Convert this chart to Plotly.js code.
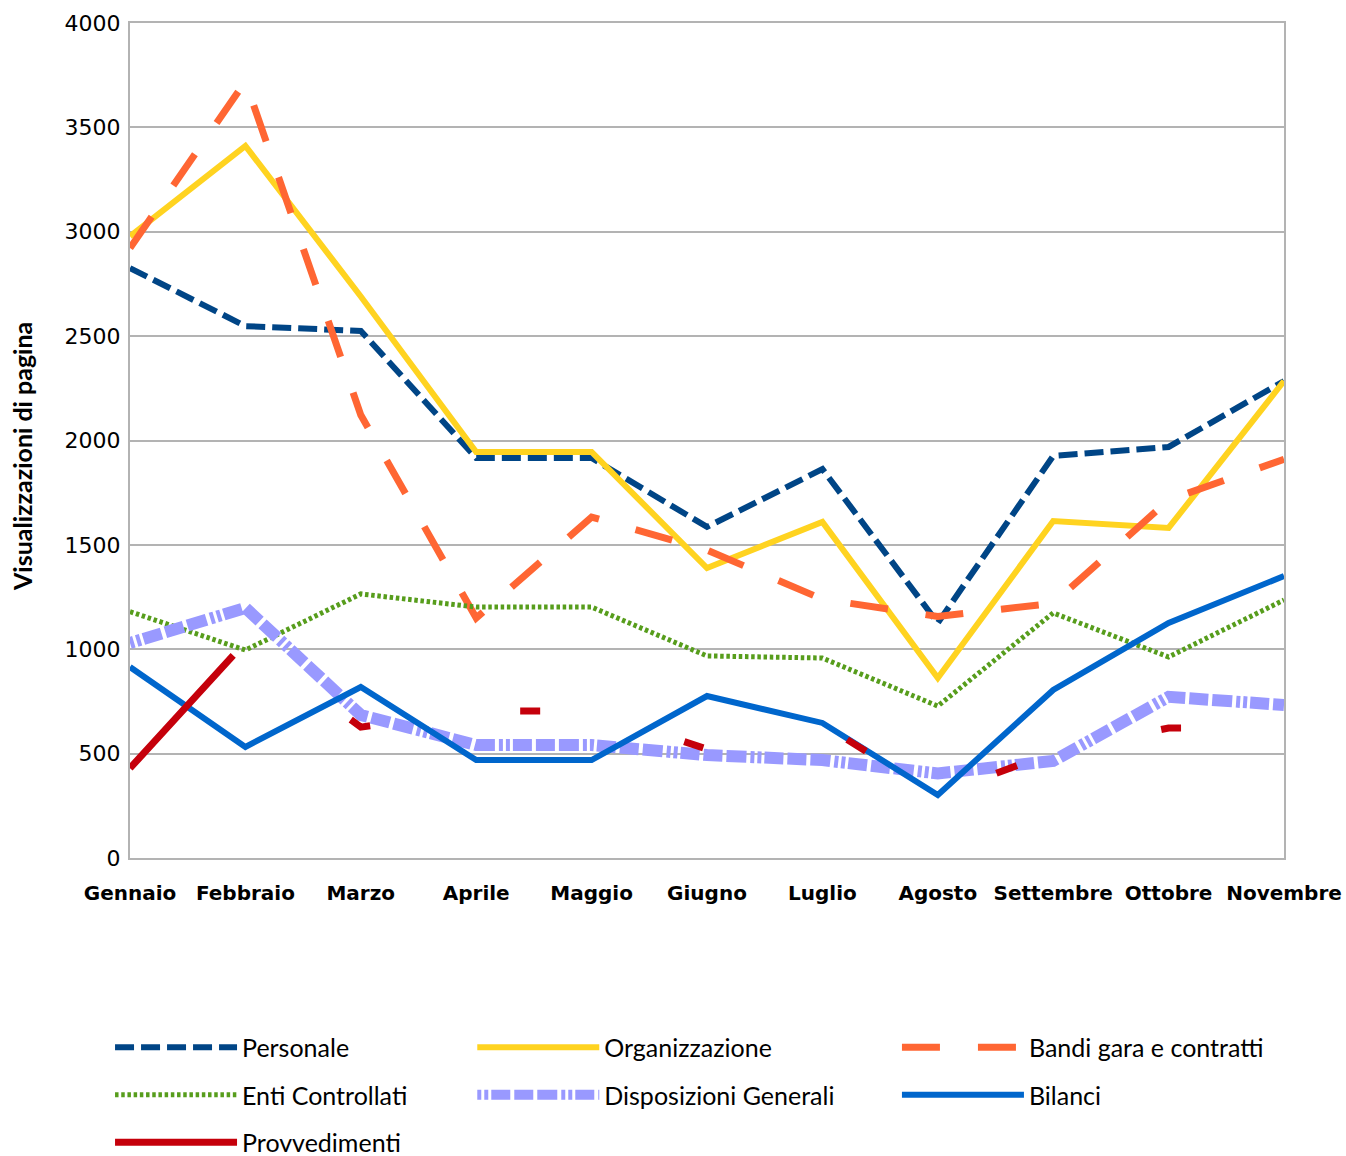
<!DOCTYPE html>
<html><head><meta charset="utf-8">
<script src="https://cdn.plot.ly/plotly-3.0.1.min.js"></script>
<style>body{margin:0;background:#fff}</style>
</head><body>
<div id="chart" style="width:1346px;height:1156px"></div>
<script>
const months = ["Gennaio","Febbraio","Marzo","Aprile","Maggio","Giugno","Luglio","Agosto","Settembre","Ottobre","Novembre"];
const personale = [2826, 2548, 2525, 1916, 1916, 1586, 1863, 1126, 1926, 1969, 2285];
const organizzazione = [2978, 3411, 2690, 1945, 1945, 1389, 1610, 862, 1614, 1581, 2285];
const bandi = [2922, 3720, 2122, 1150, 1633, 1475, 1240, 1157, 1220, 1715, 1910];
const enti = [1180, 996, 1265, 1202, 1202, 968, 958, 728, 1174, 963, 1236];
const disposizioni = [1030, 1198, 685, 541, 541, 493, 469, 405, 465, 772, 733];
const bilanci = [915, 532, 819, 469, 469, 776, 647, 302, 805, 1126, 1351];
const provvedimenti = [430, 1035, 627, 704, 704, 522, 640, 300, 508, 623, 623];
const yTicks = [0, 500, 1000, 1500, 2000, 2500, 3000, 3500, 4000];
const yTitle = "Visualizzazioni di pagina";

const series = [
  {name: "Personale", y: personale, color: "#004586", width: 6, dash: "19px,7px", legend: "legend"},
  {name: "Organizzazione", y: organizzazione, color: "#ffd320", width: 6, dash: "solid", legend: "legend2"},
  {name: "Bandi gara e contratti", y: bandi, color: "#ff6633", width: 7, dash: "38px,38px", legend: "legend3"},
  {name: "Enti Controllati", y: enti, color: "#579d1c", width: 5, dash: "3.5px,2.7px", legend: "legend"},
  {name: "Disposizioni Generali", y: disposizioni, color: "#9999ff", width: 12, dash: "4px,3px,4px,3px,19px,4px,19px,4px,20px,4px", legend: "legend2"},
  {name: "Bilanci", y: bilanci, color: "#0066cc", width: 6, dash: "solid", legend: "legend3"},
  {name: "Provvedimenti", y: provvedimenti, color: "#c5000b", width: 7, dash: "153px,149px,22px,151px,20px,149px,20px,151px,22px,147px,22px,149px,20px,400px", legend: "legend"}
];

const traces = series.map(s => ({
  type: "scatter", mode: "lines", x: months, y: s.y, name: s.name,
  legend: s.legend, legendgroup: s.name,
  line: {color: s.color, width: s.width, dash: s.dash},
  hoverinfo: "skip"
}));

const legendBase = {
  orientation: "v", xanchor: "left", yanchor: "top", xref: "paper", yref: "paper",
  y: -0.1995, bgcolor: "rgba(0,0,0,0)", borderwidth: 0, tracegroupgap: 12,
  itemwidth: 122, font: {family: "Lato, sans-serif", size: 25, color: "#000"}
};

const layout = {
  width: 1346, height: 1156,
  margin: {l: 130, r: 62, t: 23, b: 298, autoexpand: false},
  paper_bgcolor: "#fff", plot_bgcolor: "#fff",
  showlegend: true,
  xaxis: {
    type: "category", range: [0, 10], showgrid: false, zeroline: false,
    showline: true, linecolor: "#b3b3b3", linewidth: 2, mirror: true,
    ticks: "", ticklabelstandoff: 16,
    tickfont: {family: "DejaVu Sans, sans-serif", size: 20, color: "#000", weight: 700}
  },
  yaxis: {
    range: [0, 4000], tickvals: yTicks, ticktext: yTicks.map(String),
    showgrid: true, gridcolor: "#b3b3b3", gridwidth: 2, zeroline: false,
    showline: true, linecolor: "#b3b3b3", linewidth: 2, mirror: true,
    ticks: "", ticklabelstandoff: 3,
    tickfont: {family: "DejaVu Sans, sans-serif", size: 22, color: "#000"}
  },
  annotations: [{
    text: yTitle, xref: "paper", yref: "paper", x: -0.0936, y: 0.4814,
    xanchor: "center", yanchor: "middle", textangle: -90, showarrow: false,
    font: {family: "Lato, sans-serif", size: 25, color: "#000", weight: 700}
  }],
  legend: Object.assign({}, legendBase, {x: -0.0173}),
  legend2: Object.assign({}, legendBase, {x: 0.2966}),
  legend3: Object.assign({}, legendBase, {x: 0.6646})
};

Plotly.newPlot("chart", traces, layout, {displayModeBar: false, staticPlot: true});
</script>
</body></html>
